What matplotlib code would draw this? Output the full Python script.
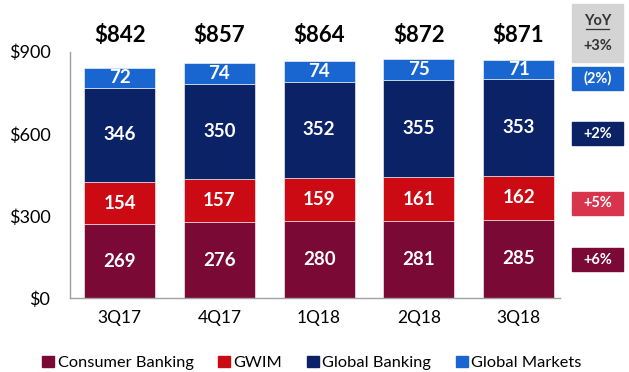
import matplotlib
matplotlib.use("Agg")
import matplotlib.pyplot as plt
from matplotlib.patches import Rectangle

plt.rcParams['font.family'] = ['Lato', 'DejaVu Sans']

quarters = ["3Q17", "4Q17", "1Q18", "2Q18", "3Q18"]
consumer = [269, 276, 280, 281, 285]
gwim = [154, 157, 159, 161, 162]
global_banking = [346, 350, 352, 355, 353]
global_markets = [72, 74, 74, 75, 71]
totals = ["$842", "$857", "$864", "$872", "$871"]
series_names = ["Consumer Banking", "GWIM", "Global Banking", "Global Markets"]
yoy_total = "+3%"
yoy_changes = ["+6%", "+5%", "+2%", "(2%)"]
yticks = [0, 300, 600, 900]
ytick_labels = ["$0", "$300", "$600", "$900"]

colors = ["#7A0A35", "#CC0A14", "#0C2266", "#1A66D0"]
yoy_colors = ["#7A0A35", "#D9344E", "#0C2266", "#1A66D0"]

fig = plt.figure(figsize=(6.29, 3.72), dpi=100)
ax = fig.add_axes([0.111, 0.199, 0.78, 0.662])

series = [consumer, gwim, global_banking, global_markets]
x = list(range(len(quarters)))
bottom = [0] * len(quarters)
for vals, col in zip(series, colors):
    ax.bar(x, vals, bottom=bottom, width=0.71, color=col, edgecolor="white",
           linewidth=0.4)
    for xi, b, v in zip(x, bottom, vals):
        ax.text(xi, b + v / 2, str(v), ha="center", va="center", color="white",
                fontsize=13.5, fontweight="bold")
    bottom = [b + v for b, v in zip(bottom, vals)]

for xi, top, lbl in zip(x, bottom, totals):
    ax.text(xi, 920, lbl, ha="center", va="bottom", fontsize=16,
            fontweight="bold", color="black", clip_on=False)

ax.set_xlim(-0.5, 4.42)
ax.set_ylim(0, 900)
ax.set_yticks(yticks)
ax.set_yticklabels(ytick_labels, fontsize=13)
ax.set_xticks(x)
ax.set_xticklabels(quarters, fontsize=12.5)
ax.tick_params(axis="x", length=0, pad=9)
ax.tick_params(axis="y", length=0, pad=14)
for s in ["top", "right"]:
    ax.spines[s].set_visible(False)
for s in ["left", "bottom"]:
    ax.spines[s].set_color("#A0A0A0")
    ax.spines[s].set_linewidth(1.0)

# YoY change column on the right
bx, bw = 572 / 629, 51 / 629
def fig_y(px):
    return 1 - px / 372

fig.patches.append(Rectangle((bx, fig_y(62)), bw, (62 - 4) / 372,
                             transform=fig.transFigure, color="#D4D4D4"))
fig.text(bx + bw / 2, fig_y(21), "YoY", ha="center", va="center", fontsize=10.5,
         fontweight="bold", color="#333333")
fig.add_artist(plt.Line2D([bx + bw / 2 - 0.019, bx + bw / 2 + 0.019],
                          [fig_y(29), fig_y(29)], transform=fig.transFigure,
                          color="#333333", linewidth=0.9))
fig.text(bx + bw / 2, fig_y(46), yoy_total, ha="center", va="center",
         fontsize=10.5, fontweight="bold", color="#333333")

box_tops = [248, 192, 122, 67]
for top, col, lbl in zip(box_tops, yoy_colors, yoy_changes):
    fig.patches.append(Rectangle((bx, fig_y(top + 23)), bw, 23 / 372,
                                 transform=fig.transFigure, color=col))
    fig.text(bx + bw / 2, fig_y(top + 11.5), lbl, ha="center", va="center",
             fontsize=10.5, fontweight="bold", color="white")

handles = [Rectangle((0, 0), 1, 1, color=c) for c in colors]
fig.legend(handles, series_names, loc="center", bbox_to_anchor=(0.496, 0.024),
           ncol=4, frameon=False, fontsize=11.8, handlelength=0.72,
           handleheight=0.72, handletextpad=0.22, columnspacing=1.5)

fig.savefig("out.png", dpi=100)
